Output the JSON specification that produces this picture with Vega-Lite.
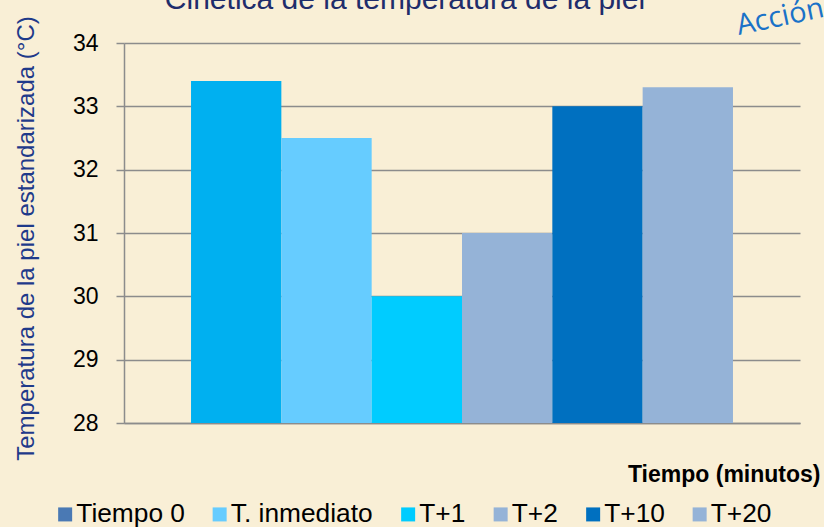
{
  "$schema": "https://vega.github.io/schema/vega-lite/v6.json",
  "autosize": {"type": "none"},
  "width": 676,
  "height": 380,
  "padding": {"left": 124, "top": 43, "right": 24, "bottom": 104},
  "background": "#F9EFD6",
  "config": {
    "font": "Liberation Sans",
    "view": {"stroke": null}
  },
  "title": {
    "text": "Cinética de la temperatura de la piel",
    "fontSize": 30,
    "fontWeight": "normal",
    "font": "Liberation Sans",
    "color": "#1F2D6B",
    "anchor": "middle",
    "frame": "group",
    "baseline": "alphabetic",
    "offset": 0,
    "dy": 45,
    "dx": -57
  },
  "datasets": {
    "temperaturas": [
      {"serie": "Tiempo 0", "valor": 33.4},
      {"serie": "T. inmediato", "valor": 32.5},
      {"serie": "T+1", "valor": 30.0},
      {"serie": "T+2", "valor": 31.0},
      {"serie": "T+10", "valor": 33.0},
      {"serie": "T+20", "valor": 33.3}
    ],
    "anotacion": [
      {"serie": "T+20", "valor": 33.955, "texto": "Acción"}
    ]
  },
  "encoding": {
    "x": {
      "field": "serie",
      "type": "nominal",
      "sort": ["Tiempo 0", "T. inmediato", "T+1", "T+2", "T+10", "T+20"],
      "scale": {"paddingInner": 0, "paddingOuter": 0.742},
      "axis": {
        "title": "Tiempo (minutos)",
        "titleFontSize": 23,
        "titleFontWeight": "bold",
        "titleColor": "#000000",
        "titleAnchor": "end",
        "titleAlign": "right",
        "titleX": 696,
        "titleY": 58,
        "titleBaseline": "alphabetic",
        "labels": false,
        "ticks": false,
        "domain": true,
        "domainColor": "#8C8C8C",
        "domainWidth": 1.5
      }
    },
    "y": {
      "field": "valor",
      "type": "quantitative",
      "scale": {"domain": [28, 34], "zero": false, "nice": false},
      "axis": {
        "title": "Temperatura de la piel estandarizada (°C)",
        "titleFontSize": 24,
        "titleFontWeight": "normal",
        "titleColor": "#1F3A8A",
        "titleX": -91,
        "titleY": 195,
        "titleAlign": "center",
        "titleBaseline": "alphabetic",
        "titleAngle": -90,
        "values": [28, 29, 30, 31, 32, 33, 34],
        "labelFontSize": 23,
        "labelColor": "#000000",
        "labelPadding": 18,
        "tickSize": 8,
        "tickColor": "#8C8C8C",
        "tickWidth": 1.5,
        "domainColor": "#8C8C8C",
        "domainWidth": 1.5,
        "grid": true,
        "gridColor": "#8C8C8C",
        "gridWidth": 1.5,
        "gridOpacity": 1
      }
    }
  },
  "layer": [
    {
      "data": {"name": "temperaturas"},
      "mark": {"type": "bar"},
      "encoding": {
        "y2": {"datum": 28},
        "color": {
          "condition": {"test": "datum.serie === 'Tiempo 0'", "value": "#00B0F0"},
          "field": "serie",
          "type": "nominal",
          "sort": ["Tiempo 0", "T. inmediato", "T+1", "T+2", "T+10", "T+20"],
          "scale": {
            "domain": ["Tiempo 0", "T. inmediato", "T+1", "T+2", "T+10", "T+20"],
            "range": ["#4A79B4", "#66CCFF", "#00CCFF", "#95B3D7", "#0070C0", "#95B3D7"]
          },
          "legend": {
            "title": null,
            "orient": "none",
            "direction": "horizontal",
            "legendX": -72,
            "legendY": 458,
            "symbolType": "square",
            "symbolSize": 196,
            "symbolStrokeWidth": 0,
            "symbolOpacity": 1,
            "labelFontSize": 26.3,
            "labelColor": "#000000",
            "labelOffset": -2,
            "columnPadding": 21.5,
            "labelLimit": 300
          }
        }
      }
    },
    {
      "data": {"name": "anotacion"},
      "mark": {
        "type": "text",
        "align": "left",
        "baseline": "alphabetic",
        "dx": 52,
        "angle": 348,
        "fontSize": 29,
        "font": "Open Sans",
        "color": "#1A72C8"
      },
      "encoding": {
        "text": {"field": "texto"}
      }
    }
  ]
}
